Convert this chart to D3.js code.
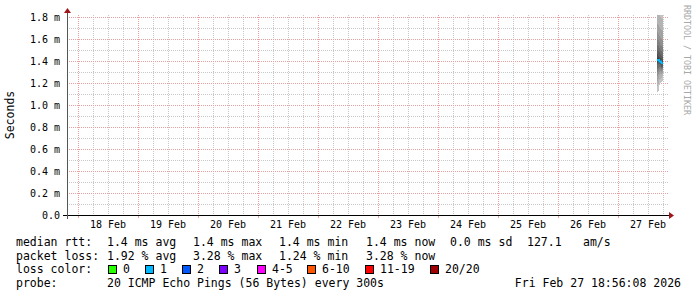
<!DOCTYPE html>
<html>
<head>
<meta charset="utf-8">
<script src="https://cdn.jsdelivr.net/npm/d3@7"></script>
<style>
  html, body { margin: 0; padding: 0; background: #fff; }
  svg text { font-family: 'DejaVu Sans Mono', monospace; fill: #000; }
</style>
</head>
<body>
<div id="chart"></div>
<script>
// axis labels
const dayLabels = ['18 Feb', '19 Feb', '20 Feb', '21 Feb', '22 Feb', '23 Feb', '24 Feb', '25 Feb', '26 Feb', '27 Feb'];
const yTickValues = [0, 0.2, 0.4, 0.6, 0.8, 1.0, 1.2, 1.4, 1.6, 1.8];
const yTickLabels = ['0.0', '0.2 m', '0.4 m', '0.6 m', '0.8 m', '1.0 m', '1.2 m', '1.4 m', '1.6 m', '1.8 m'];

// samples (one per consolidated step, Feb 27 afternoon)
const sampleTimes = ['2026-02-27T15:36', '2026-02-27T16:00', '2026-02-27T16:24', '2026-02-27T16:48', '2026-02-27T17:12', '2026-02-27T17:36'];
const sampleEnd = '2026-02-27T18:00';
const medianRtt = [1.41, 1.41, 1.395, 1.395, 1.38, 1.38]; // ms
const lossCount = [1, 1, 1, 1, 1, 1];
// sorted ping times (ms), 20 pings per step
const smokePings = [
  [1.12, 1.17, 1.22, 1.26, 1.30, 1.33, 1.36, 1.38, 1.40, 1.41, 1.41, 1.43, 1.46, 1.50, 1.55, 1.60, 1.66, 1.74, 1.86, 2.05],
  [1.13, 1.19, 1.24, 1.28, 1.31, 1.34, 1.37, 1.39, 1.40, 1.41, 1.41, 1.43, 1.45, 1.49, 1.54, 1.59, 1.65, 1.73, 1.84, 2.02],
  [1.18, 1.23, 1.27, 1.30, 1.33, 1.35, 1.37, 1.38, 1.39, 1.39, 1.40, 1.42, 1.44, 1.48, 1.52, 1.57, 1.63, 1.71, 1.82, 1.98],
  [1.20, 1.24, 1.28, 1.31, 1.33, 1.35, 1.36, 1.37, 1.38, 1.39, 1.40, 1.41, 1.43, 1.46, 1.50, 1.55, 1.61, 1.69, 1.80, 1.95],
  [1.21, 1.25, 1.28, 1.30, 1.32, 1.34, 1.35, 1.36, 1.37, 1.38, 1.38, 1.40, 1.42, 1.45, 1.49, 1.54, 1.60, 1.68, 1.79, 1.93],
  [1.22, 1.26, 1.29, 1.31, 1.33, 1.34, 1.35, 1.36, 1.37, 1.38, 1.38, 1.39, 1.41, 1.44, 1.48, 1.53, 1.59, 1.67, 1.78, 1.92],
];

// loss legend
const lossLabels = ['0', '1', '2', '3', '4-5', '6-10', '11-19', '20/20'];
const lossColors = ['#26ff00', '#00b8ff', '#0059ff', '#7e00ff', '#ff00ff', '#ff5500', '#ff0000', '#a10000'];

// legend text rows
const rttStats = ['1.4 ms avg', '1.4 ms max', '1.4 ms min', '1.4 ms now', '0.0 ms sd', '127.1', 'am/s'];
const lossStats = ['1.92 % avg', '3.28 % max', '1.24 % min', '3.28 % now'];
const probeText = '20 ICMP Echo Pings (56 Bytes) every 300s';
const stampText = 'Fri Feb 27 18:56:08 2026';

const W = 697, H = 297;
const plot = { left: 67, right: 667, top: 15, bottom: 215 };
const parse = d3.timeParse('%Y-%m-%dT%H:%M');

const svg = d3.select('#chart').append('svg')
  .attr('width', W).attr('height', H)
  .attr('viewBox', `0 0 ${W} ${H}`);
svg.append('rect').attr('width', W).attr('height', H).attr('fill', '#fff');

const x = d3.scaleTime()
  .domain([parse('2026-02-17T19:36'), parse('2026-02-27T19:36')])
  .range([plot.left, plot.right]);
const y = d3.scaleLinear()
  .domain([0, 1.8 * 200 / 198])
  .range([plot.bottom, plot.top]);

// grid
const grid = svg.append('g').attr('shape-rendering', 'crispEdges');
const minorY = d3.range(1, 19).map((i) => i * 0.1).filter((v, i) => i % 2 === 0);
grid.selectAll('line.hminor').data(minorY).enter().append('line')
  .attr('x1', plot.left).attr('x2', plot.right + 2)
  .attr('y1', (d) => Math.round(y(d)) + 0.5).attr('y2', (d) => Math.round(y(d)) + 0.5)
  .attr('stroke', '#c8c8c8').attr('stroke-dasharray', '1,1');
const sixHours = d3.timeHour.every(6).range(x.domain()[0], x.domain()[1]).filter((t) => t.getHours() !== 0);
grid.selectAll('line.vminor').data(sixHours).enter().append('line')
  .attr('x1', (d) => Math.round(x(d)) + 0.5).attr('x2', (d) => Math.round(x(d)) + 0.5)
  .attr('y1', plot.top).attr('y2', plot.bottom)
  .attr('stroke', '#c8c8c8').attr('stroke-dasharray', '1,1');
grid.selectAll('line.hmajor').data(yTickValues.slice(1)).enter().append('line')
  .attr('x1', plot.left).attr('x2', plot.right + 2)
  .attr('y1', (d) => Math.round(y(d)) + 0.5).attr('y2', (d) => Math.round(y(d)) + 0.5)
  .attr('stroke', '#e8a0a0').attr('stroke-dasharray', '1,1');
const midnights = d3.timeDay.range(x.domain()[0], x.domain()[1]);
grid.selectAll('line.vmajor').data(midnights).enter().append('line')
  .attr('x1', (d) => Math.round(x(d)) + 0.5).attr('x2', (d) => Math.round(x(d)) + 0.5)
  .attr('y1', plot.top).attr('y2', plot.bottom)
  .attr('stroke', '#e8a0a0').attr('stroke-dasharray', '1,1');

// smoke
svg.append('clipPath').attr('id', 'plotclip').append('rect')
  .attr('x', plot.left).attr('y', plot.top)
  .attr('width', plot.right - plot.left).attr('height', plot.bottom - plot.top);

const steps = sampleTimes.map((t, i) => ({ t: parse(t), i }));
steps.push({ t: parse(sampleEnd), i: sampleTimes.length - 1 });
const half = 10;
const shade = d3.scaleLinear().domain([0, half - 1]).range(['#c4c4c4', '#2a2a2a']);
const smoke = svg.append('g').attr('clip-path', 'url(#plotclip)');
for (let k = 0; k < half; k++) {
  const area = d3.area()
    .curve(d3.curveStepAfter)
    .x((d) => x(d.t))
    .y0((d) => y(smokePings[d.i][k]))
    .y1((d) => y(smokePings[d.i][19 - k]));
  smoke.append('path').datum(steps).attr('d', area)
    .attr('fill', shade(k)).attr('shape-rendering', 'crispEdges');
}

// median line, coloured by loss
const medLine = d3.line().curve(d3.curveStepAfter)
  .x((d) => x(d.t)).y((d) => y(medianRtt[d.i]));
steps.slice(0, -1).forEach((s, i) => {
  const seg = [s, steps[i + 1]];
  svg.append('path').datum(seg).attr('d', medLine)
    .attr('fill', 'none').attr('stroke', lossColors[lossCount[i]]).attr('stroke-width', 2);
});

// axes
const axisG = svg.append('g').attr('shape-rendering', 'crispEdges');
axisG.append('line').attr('x1', plot.left - 4).attr('x2', plot.right + 2)
  .attr('y1', plot.bottom + 0.5).attr('y2', plot.bottom + 0.5).attr('stroke', '#000');
axisG.append('line').attr('x1', plot.left + 0.5).attr('x2', plot.left + 0.5)
  .attr('y1', plot.top - 3).attr('y2', plot.bottom + 4).attr('stroke', '#555');
axisG.selectAll('line.xt').data(midnights).enter().append('line')
  .attr('x1', (d) => Math.round(x(d)) + 0.5).attr('x2', (d) => Math.round(x(d)) + 0.5)
  .attr('y1', plot.bottom + 1).attr('y2', plot.bottom + 3).attr('stroke', '#e8a0a0');
svg.append('path')
  .attr('d', `M${plot.right + 2},${plot.bottom - 3}L${plot.right + 7},${plot.bottom + 0.5}L${plot.right + 2},${plot.bottom + 4}Z`)
  .attr('fill', '#a0161a');
svg.append('path')
  .attr('d', `M${plot.left - 3},${plot.top - 2}L${plot.left + 0.5},${plot.top - 7}L${plot.left + 4},${plot.top - 2}Z`)
  .attr('fill', '#a0161a');

// tick labels
const yLab = svg.append('g').style('font-size', '10px');
yLab.selectAll('text').data(yTickValues).enter().append('text')
  .attr('x', 60).attr('y', (d) => y(d) + 3.5)
  .attr('text-anchor', 'end')
  .text((d, i) => yTickLabels[i]);
const noons = midnights.map((d) => d3.timeHour.offset(d, 12));
const xLab = svg.append('g').style('font-size', '10px');
xLab.selectAll('text').data(noons).enter().append('text')
  .attr('x', (d) => x(d)).attr('y', 228)
  .attr('text-anchor', 'middle')
  .text((d, i) => dayLabels[i]);

svg.append('text')
  .attr('transform', 'translate(14,115) rotate(-90)')
  .attr('text-anchor', 'middle')
  .style('font-size', '11.5px')
  .text('Seconds');

svg.append('text')
  .attr('transform', 'translate(684,5) rotate(90)')
  .style('font-size', '8.3px').style('fill', '#a8a8a8')
  .text('RRDTOOL / TOBI OETIKER');

// legend
const leg = svg.append('g').style('font-size', '11.5px');
const rowY = [245.5, 259.5, 273, 286.5];
const colX = [107, 193, 279, 366, 450, 527, 583];
leg.append('text').attr('x', 16).attr('y', rowY[0]).text('median rtt:');
rttStats.forEach((s, i) => leg.append('text').attr('x', colX[i]).attr('y', rowY[0]).text(s));
leg.append('text').attr('x', 16).attr('y', rowY[1]).text('packet loss:');
lossStats.forEach((s, i) => leg.append('text').attr('x', colX[i]).attr('y', rowY[1]).text(s));
leg.append('text').attr('x', 16).attr('y', rowY[2]).text('loss color:');
const boxX = [108, 145, 182, 219, 257, 307, 365, 430];
lossLabels.forEach((s, i) => {
  leg.append('rect').attr('x', boxX[i] + 0.5).attr('y', 265.5).attr('width', 8).attr('height', 8)
    .attr('fill', lossColors[i]).attr('stroke', '#000');
  leg.append('text').attr('x', boxX[i] + 15).attr('y', rowY[2]).text(s);
});
leg.append('text').attr('x', 16).attr('y', rowY[3]).text('probe:');
leg.append('text').attr('x', 107).attr('y', rowY[3]).text(probeText);
leg.append('text').attr('x', 681).attr('y', rowY[3]).attr('text-anchor', 'end').text(stampText);
</script>
</body>
</html>
